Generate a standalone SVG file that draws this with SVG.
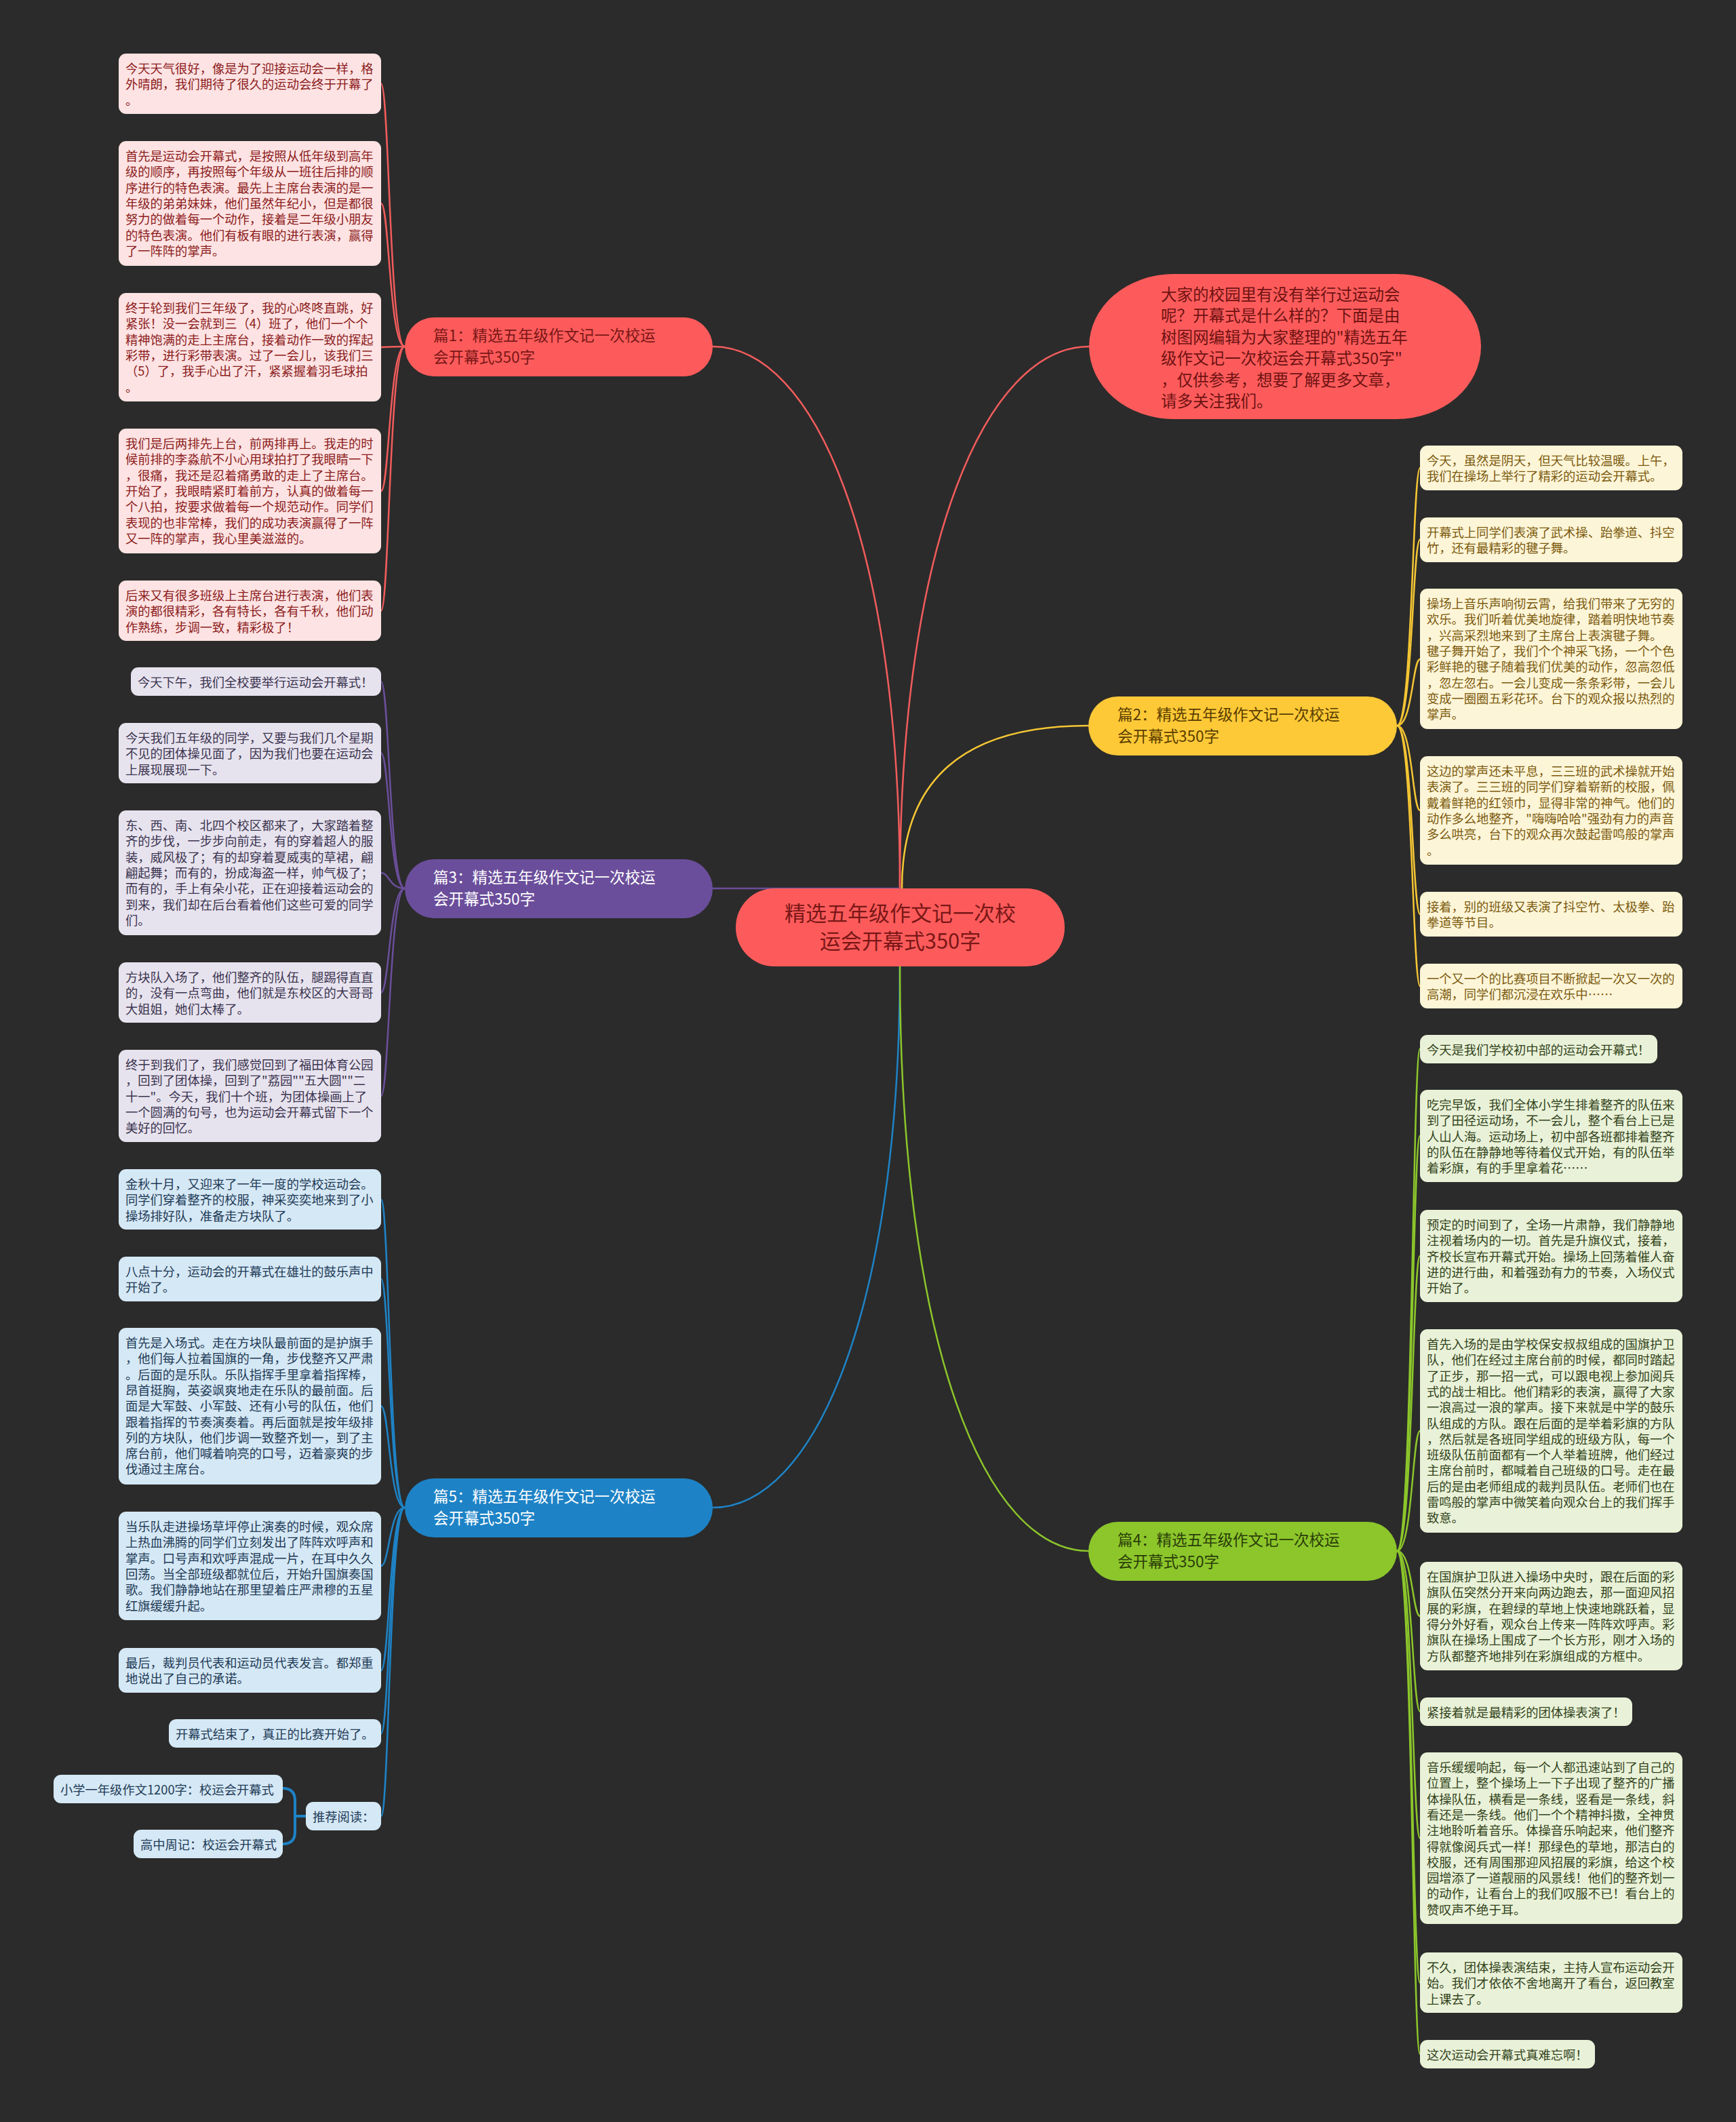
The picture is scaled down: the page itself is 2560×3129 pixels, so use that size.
<svg xmlns="http://www.w3.org/2000/svg" width="2560" height="3129" viewBox="0 0 2560 3129">
<style>
text{font-family:"Noto Sans CJK SC","Noto Sans",sans-serif}
.t{font-size:18.3px}
.bt{font-size:22.5px}
.red rect{fill:#fde3e3}.red text{fill:#8c1c1c}
.pur rect{fill:#e7e3ee}.pur text{fill:#3b3450}
.blu rect{fill:#d5e8f5}.blu text{fill:#1e3a56}
.yel rect{fill:#fdf5d7}.yel text{fill:#7b5a0f}
.grn rect{fill:#e9f2d8}.grn text{fill:#33431c}
.c{fill:none;stroke-width:2.5}
.cr{stroke:#f25c5c}.cp{stroke:#6b4e9b}.cb{stroke:#1e83c6}.cy{stroke:#f5c634}.cg{stroke:#8cc62b}
</style>
<rect x="0" y="0" width="2560" height="3129" fill="#2b2b2b"/>
<g id="connectors">
<path class="c cr" d="M1051 511 C1200 511 1327 800 1327 1310"/>
<path class="c cr" d="M1606 511 C1455 511 1327 800 1327 1310"/>
<path class="c cy" d="M1605 1070 C1420 1070 1330 1150 1330 1310"/>
<path class="c cp" d="M1051 1310 L1327 1310"/>
<path class="c cb" d="M1051 2223 C1200 2223 1327 1935 1327 1425"/>
<path class="c cg" d="M1605 2287 C1455 2287 1327 1990 1327 1425"/>
<g class="c cr">
<path d="M597 511 C574 511 574 123.5 562 123.5"/>
<path d="M597 511 C574 511 574 300 562 300"/>
<path d="M597 511 C574 511 574 512 562 512"/>
<path d="M597 511 C574 511 574 724 562 724"/>
<path d="M597 511 C574 511 574 900.5 562 900.5"/>
</g>
<g class="c cp">
<path d="M597 1310 C574 1310 574 1005 562 1005"/>
<path d="M597 1310 C574 1310 574 1110.5 562 1110.5"/>
<path d="M597 1310 C574 1310 574 1287 562 1287"/>
<path d="M597 1310 C574 1310 574 1463.5 562 1463.5"/>
<path d="M597 1310 C574 1310 574 1616 562 1616"/>
</g>
<g class="c cb">
<path d="M597 2223 C574 2223 574 1769 562 1769"/>
<path d="M597 2223 C574 2223 574 1886 562 1886"/>
<path d="M597 2223 C574 2223 574 2073.5 562 2073.5"/>
<path d="M597 2223 C574 2223 574 2309 562 2309"/>
<path d="M597 2223 C574 2223 574 2463 562 2463"/>
<path d="M597 2223 C574 2223 574 2556 562 2556"/>
<path d="M597 2223 C574 2223 574 2678 562 2678"/>
<path d="M451 2678 L435 2678 M417 2637 Q435 2637 435 2655 L435 2701 Q435 2719 417 2719" stroke-width="4"/>
</g>
<g class="c cy">
<path d="M2060 1070 C2083 1070 2083 690 2094 690"/>
<path d="M2060 1070 C2083 1070 2083 795.5 2094 795.5"/>
<path d="M2060 1070 C2083 1070 2083 972 2094 972"/>
<path d="M2060 1070 C2083 1070 2083 1195 2094 1195"/>
<path d="M2060 1070 C2083 1070 2083 1348 2094 1348"/>
<path d="M2060 1070 C2083 1070 2083 1454 2094 1454"/>
</g>
<g class="c cg">
<path d="M2060 2287 C2083 2287 2083 1546.5 2094 1546.5"/>
<path d="M2060 2287 C2083 2287 2083 1675 2094 1675"/>
<path d="M2060 2287 C2083 2287 2083 1852 2094 1852"/>
<path d="M2060 2287 C2083 2287 2083 2110 2094 2110"/>
<path d="M2060 2287 C2083 2287 2083 2383 2094 2383"/>
<path d="M2060 2287 C2083 2287 2083 2523.5 2094 2523.5"/>
<path d="M2060 2287 C2083 2287 2083 2710.5 2094 2710.5"/>
<path d="M2060 2287 C2083 2287 2083 2923.5 2094 2923.5"/>
<path d="M2060 2287 C2083 2287 2083 3028.5 2094 3028.5"/>
</g>
</g>

<g id="center">
<rect x="1085" y="1310" width="485" height="115" rx="57" fill="#fd5b5b"/>
<text x="1327.5" y="1358" font-size="31" fill="#7a1717" text-anchor="middle">精选五年级作文记一次校</text>
<text x="1327.5" y="1399" font-size="31" fill="#7a1717" text-anchor="middle">运会开幕式350字</text>
</g>

<g id="intro">
<rect x="1606" y="404" width="578" height="214" rx="125" ry="107" fill="#fd5b5b"/>
<text font-size="23.5" fill="#6e1212">
<tspan x="1712" y="443">大家的校园里有没有举行过运动会</tspan>
<tspan x="1712" y="474.4">呢？开幕式是什么样的？下面是由</tspan>
<tspan x="1712" y="505.8">树图网编辑为大家整理的"精选五年</tspan>
<tspan x="1712" y="537.2">级作文记一次校运会开幕式350字"</tspan>
<tspan x="1712" y="568.6">，仅供参考，想要了解更多文章，</tspan>
<tspan x="1712" y="600">请多关注我们。</tspan>
</text>
</g>

<g id="b1">
<rect x="597" y="468" width="454" height="87" rx="43.5" fill="#fd5b5b"/>
<text class="bt" fill="#7a1717"><tspan x="639" y="503">篇1：精选五年级作文记一次校运</tspan><tspan x="639" y="535">会开幕式350字</tspan></text>
</g>
<g id="b3">
<rect x="597" y="1267" width="454" height="87" rx="43.5" fill="#6b4e9b"/>
<text class="bt" fill="#ffffff"><tspan x="639" y="1302">篇3：精选五年级作文记一次校运</tspan><tspan x="639" y="1334">会开幕式350字</tspan></text>
</g>
<g id="b5">
<rect x="597" y="2180" width="454" height="87" rx="43.5" fill="#1e83c6"/>
<text class="bt" fill="#ffffff"><tspan x="639" y="2215">篇5：精选五年级作文记一次校运</tspan><tspan x="639" y="2247">会开幕式350字</tspan></text>
</g>
<g id="b2">
<rect x="1605" y="1027" width="455" height="87" rx="43.5" fill="#fdc937"/>
<text class="bt" fill="#5a3d00"><tspan x="1648" y="1062">篇2：精选五年级作文记一次校运</tspan><tspan x="1648" y="1094">会开幕式350字</tspan></text>
</g>
<g id="b4">
<rect x="1605" y="2244" width="455" height="87" rx="43.5" fill="#8cc62b"/>
<text class="bt" fill="#2a3d08"><tspan x="1648" y="2279">篇4：精选五年级作文记一次校运</tspan><tspan x="1648" y="2311">会开幕式350字</tspan></text>
</g>

<g id="r1" class="red"><rect x="175" y="79" width="387" height="89" rx="11"/>
<text class="t"><tspan x="185" y="108">今天天气很好，像是为了迎接运动会一样，格</tspan><tspan x="185" y="131.3">外晴朗，我们期待了很久的运动会终于开幕了</tspan><tspan x="185" y="154.6">。</tspan></text></g>
<g id="r2" class="red"><rect x="175" y="208" width="387" height="184" rx="11"/>
<text class="t"><tspan x="185" y="237">首先是运动会开幕式，是按照从低年级到高年</tspan><tspan x="185" y="260.3">级的顺序，再按照每个年级从一班往后排的顺</tspan><tspan x="185" y="283.6">序进行的特色表演。最先上主席台表演的是一</tspan><tspan x="185" y="306.9">年级的弟弟妹妹，他们虽然年纪小，但是都很</tspan><tspan x="185" y="330.2">努力的做着每一个动作，接着是二年级小朋友</tspan><tspan x="185" y="353.5">的特色表演。他们有板有眼的进行表演，赢得</tspan><tspan x="185" y="376.8">了一阵阵的掌声。</tspan></text></g>
<g id="r3" class="red"><rect x="175" y="432" width="387" height="160" rx="11"/>
<text class="t"><tspan x="185" y="461">终于轮到我们三年级了，我的心咚咚直跳，好</tspan><tspan x="185" y="484.3">紧张！没一会就到三（4）班了，他们一个个</tspan><tspan x="185" y="507.6">精神饱满的走上主席台，接着动作一致的挥起</tspan><tspan x="185" y="530.9">彩带，进行彩带表演。过了一会儿，该我们三</tspan><tspan x="185" y="554.2">（5）了，我手心出了汗，紧紧握着羽毛球拍</tspan><tspan x="185" y="577.5">。</tspan></text></g>
<g id="r4" class="red"><rect x="175" y="632" width="387" height="184" rx="11"/>
<text class="t"><tspan x="185" y="661">我们是后两排先上台，前两排再上。我走的时</tspan><tspan x="185" y="684.3">候前排的李淼航不小心用球拍打了我眼睛一下</tspan><tspan x="185" y="707.6">，很痛，我还是忍着痛勇敢的走上了主席台。</tspan><tspan x="185" y="730.9">开始了，我眼睛紧盯着前方，认真的做着每一</tspan><tspan x="185" y="754.2">个八拍，按要求做着每一个规范动作。同学们</tspan><tspan x="185" y="777.5">表现的也非常棒，我们的成功表演赢得了一阵</tspan><tspan x="185" y="800.8">又一阵的掌声，我心里美滋滋的。</tspan></text></g>
<g id="r5" class="red"><rect x="175" y="856" width="387" height="89" rx="11"/>
<text class="t"><tspan x="185" y="885">后来又有很多班级上主席台进行表演，他们表</tspan><tspan x="185" y="908.3">演的都很精彩，各有特长，各有千秋，他们动</tspan><tspan x="185" y="931.6">作熟练，步调一致，精彩极了！</tspan></text></g>

<g id="p1" class="pur"><rect x="193" y="984" width="369" height="42" rx="11"/>
<text class="t"><tspan x="203" y="1013">今天下午，我们全校要举行运动会开幕式！</tspan></text></g>
<g id="p2" class="pur"><rect x="175" y="1066" width="387" height="89" rx="11"/>
<text class="t"><tspan x="185" y="1095">今天我们五年级的同学，又要与我们几个星期</tspan><tspan x="185" y="1118.3">不见的团体操见面了，因为我们也要在运动会</tspan><tspan x="185" y="1141.6">上展现展现一下。</tspan></text></g>
<g id="p3" class="pur"><rect x="175" y="1195" width="387" height="184" rx="11"/>
<text class="t"><tspan x="185" y="1224">东、西、南、北四个校区都来了，大家踏着整</tspan><tspan x="185" y="1247.3">齐的步伐，一步步向前走，有的穿着超人的服</tspan><tspan x="185" y="1270.6">装，威风极了；有的却穿着夏威夷的草裙，翩</tspan><tspan x="185" y="1293.9">翩起舞；而有的，扮成海盗一样，帅气极了；</tspan><tspan x="185" y="1317.2">而有的，手上有朵小花，正在迎接着运动会的</tspan><tspan x="185" y="1340.5">到来，我们却在后台看着他们这些可爱的同学</tspan><tspan x="185" y="1363.8">们。</tspan></text></g>
<g id="p4" class="pur"><rect x="175" y="1419" width="387" height="89" rx="11"/>
<text class="t"><tspan x="185" y="1448">方块队入场了，他们整齐的队伍，腿踢得直直</tspan><tspan x="185" y="1471.3">的，没有一点弯曲，他们就是东校区的大哥哥</tspan><tspan x="185" y="1494.6">大姐姐，她们太棒了。</tspan></text></g>
<g id="p5" class="pur"><rect x="175" y="1548" width="387" height="136" rx="11"/>
<text class="t"><tspan x="185" y="1577">终于到我们了，我们感觉回到了福田体育公园</tspan><tspan x="185" y="1600.3">，回到了团体操，回到了"荔园""五大圆""二</tspan><tspan x="185" y="1623.6">十一"。今天，我们十个班，为团体操画上了</tspan><tspan x="185" y="1646.9">一个圆满的句号，也为运动会开幕式留下一个</tspan><tspan x="185" y="1670.2">美好的回忆。</tspan></text></g>

<g id="u1" class="blu"><rect x="175" y="1724" width="387" height="89" rx="11"/>
<text class="t"><tspan x="185" y="1753">金秋十月，又迎来了一年一度的学校运动会。</tspan><tspan x="185" y="1776.3">同学们穿着整齐的校服，神采奕奕地来到了小</tspan><tspan x="185" y="1799.6">操场排好队，准备走方块队了。</tspan></text></g>
<g id="u2" class="blu"><rect x="175" y="1853" width="387" height="66" rx="11"/>
<text class="t"><tspan x="185" y="1882">八点十分，运动会的开幕式在雄壮的鼓乐声中</tspan><tspan x="185" y="1905.3">开始了。</tspan></text></g>
<g id="u3" class="blu"><rect x="175" y="1958" width="387" height="231" rx="11"/>
<text class="t"><tspan x="185" y="1987">首先是入场式。走在方块队最前面的是护旗手</tspan><tspan x="185" y="2010.3">，他们每人拉着国旗的一角，步伐整齐又严肃</tspan><tspan x="185" y="2033.6">。后面的是乐队。乐队指挥手里拿着指挥棒，</tspan><tspan x="185" y="2056.9">昂首挺胸，英姿飒爽地走在乐队的最前面。后</tspan><tspan x="185" y="2080.2">面是大军鼓、小军鼓、还有小号的队伍，他们</tspan><tspan x="185" y="2103.5">跟着指挥的节奏演奏着。再后面就是按年级排</tspan><tspan x="185" y="2126.8">列的方块队，他们步调一致整齐划一，到了主</tspan><tspan x="185" y="2150.1">席台前，他们喊着响亮的口号，迈着豪爽的步</tspan><tspan x="185" y="2173.4">伐通过主席台。</tspan></text></g>
<g id="u4" class="blu"><rect x="175" y="2229" width="387" height="160" rx="11"/>
<text class="t"><tspan x="185" y="2258">当乐队走进操场草坪停止演奏的时候，观众席</tspan><tspan x="185" y="2281.3">上热血沸腾的同学们立刻发出了阵阵欢呼声和</tspan><tspan x="185" y="2304.6">掌声。口号声和欢呼声混成一片，在耳中久久</tspan><tspan x="185" y="2327.9">回荡。当全部班级都就位后，开始升国旗奏国</tspan><tspan x="185" y="2351.2">歌。我们静静地站在那里望着庄严肃穆的五星</tspan><tspan x="185" y="2374.5">红旗缓缓升起。</tspan></text></g>
<g id="u5" class="blu"><rect x="175" y="2430" width="387" height="66" rx="11"/>
<text class="t"><tspan x="185" y="2459">最后，裁判员代表和运动员代表发言。都郑重</tspan><tspan x="185" y="2482.3">地说出了自己的承诺。</tspan></text></g>
<g id="u6" class="blu"><rect x="249" y="2535" width="313" height="42" rx="11"/>
<text class="t"><tspan x="259" y="2564">开幕式结束了，真正的比赛开始了。</tspan></text></g>
<g id="u7" class="blu"><rect x="451" y="2657" width="111" height="42" rx="11"/>
<text class="t"><tspan x="461" y="2686">推荐阅读：</tspan></text></g>
<g id="u8" class="blu"><rect x="79" y="2617" width="338" height="42" rx="11"/>
<text class="t"><tspan x="89" y="2646">小学一年级作文1200字：校运会开幕式</tspan></text></g>
<g id="u9" class="blu"><rect x="197" y="2698" width="220" height="42" rx="11"/>
<text class="t"><tspan x="207" y="2727">高中周记：校运会开幕式</tspan></text></g>

<g id="y1" class="yel"><rect x="2094" y="657" width="387" height="66" rx="11"/>
<text class="t"><tspan x="2104" y="686">今天，虽然是阴天，但天气比较温暖。上午，</tspan><tspan x="2104" y="709.3">我们在操场上举行了精彩的运动会开幕式。</tspan></text></g>
<g id="y2" class="yel"><rect x="2094" y="763" width="387" height="66" rx="11"/>
<text class="t"><tspan x="2104" y="792">开幕式上同学们表演了武术操、跆拳道、抖空</tspan><tspan x="2104" y="815.3">竹，还有最精彩的毽子舞。</tspan></text></g>
<g id="y3" class="yel"><rect x="2094" y="868" width="387" height="207" rx="11"/>
<text class="t"><tspan x="2104" y="897">操场上音乐声响彻云霄，给我们带来了无穷的</tspan><tspan x="2104" y="920.3">欢乐。我们听着优美地旋律，踏着明快地节奏</tspan><tspan x="2104" y="943.6">，兴高采烈地来到了主席台上表演毽子舞。</tspan><tspan x="2104" y="966.9">毽子舞开始了，我们个个神采飞扬，一个个色</tspan><tspan x="2104" y="990.2">彩鲜艳的毽子随着我们优美的动作，忽高忽低</tspan><tspan x="2104" y="1013.5">，忽左忽右。一会儿变成一条条彩带，一会儿</tspan><tspan x="2104" y="1036.8">变成一圈圈五彩花环。台下的观众报以热烈的</tspan><tspan x="2104" y="1060.1">掌声。</tspan></text></g>
<g id="y4" class="yel"><rect x="2094" y="1115" width="387" height="160" rx="11"/>
<text class="t"><tspan x="2104" y="1144">这边的掌声还未平息，三三班的武术操就开始</tspan><tspan x="2104" y="1167.3">表演了。三三班的同学们穿着崭新的校服，佩</tspan><tspan x="2104" y="1190.6">戴着鲜艳的红领巾，显得非常的神气。他们的</tspan><tspan x="2104" y="1213.9">动作多么地整齐，"嗨嗨哈哈"强劲有力的声音</tspan><tspan x="2104" y="1237.2">多么哄亮，台下的观众再次鼓起雷鸣般的掌声</tspan><tspan x="2104" y="1260.5">。</tspan></text></g>
<g id="y5" class="yel"><rect x="2094" y="1315" width="387" height="66" rx="11"/>
<text class="t"><tspan x="2104" y="1344">接着，别的班级又表演了抖空竹、太极拳、跆</tspan><tspan x="2104" y="1367.3">拳道等节目。</tspan></text></g>
<g id="y6" class="yel"><rect x="2094" y="1421" width="387" height="66" rx="11"/>
<text class="t"><tspan x="2104" y="1450">一个又一个的比赛项目不断掀起一次又一次的</tspan><tspan x="2104" y="1473.3">高潮，同学们都沉浸在欢乐中……</tspan></text></g>

<g id="g1" class="grn"><rect x="2094" y="1526" width="350" height="42" rx="11"/>
<text class="t"><tspan x="2104" y="1555">今天是我们学校初中部的运动会开幕式！</tspan></text></g>
<g id="g2" class="grn"><rect x="2094" y="1607" width="387" height="136" rx="11"/>
<text class="t"><tspan x="2104" y="1636">吃完早饭，我们全体小学生排着整齐的队伍来</tspan><tspan x="2104" y="1659.3">到了田径运动场，不一会儿，整个看台上已是</tspan><tspan x="2104" y="1682.6">人山人海。运动场上，初中部各班都排着整齐</tspan><tspan x="2104" y="1705.9">的队伍在静静地等待着仪式开始，有的队伍举</tspan><tspan x="2104" y="1729.2">着彩旗，有的手里拿着花……</tspan></text></g>
<g id="g3" class="grn"><rect x="2094" y="1784" width="387" height="136" rx="11"/>
<text class="t"><tspan x="2104" y="1813">预定的时间到了，全场一片肃静，我们静静地</tspan><tspan x="2104" y="1836.3">注视着场内的一切。首先是升旗仪式，接着，</tspan><tspan x="2104" y="1859.6">齐校长宣布开幕式开始。操场上回荡着催人奋</tspan><tspan x="2104" y="1882.9">进的进行曲，和着强劲有力的节奏，入场仪式</tspan><tspan x="2104" y="1906.2">开始了。</tspan></text></g>
<g id="g4" class="grn"><rect x="2094" y="1960" width="387" height="300" rx="11"/>
<text class="t"><tspan x="2104" y="1989">首先入场的是由学校保安叔叔组成的国旗护卫</tspan><tspan x="2104" y="2012.3">队，他们在经过主席台前的时候，都同时踏起</tspan><tspan x="2104" y="2035.6">了正步，那一招一式，可以跟电视上参加阅兵</tspan><tspan x="2104" y="2058.9">式的战士相比。他们精彩的表演，赢得了大家</tspan><tspan x="2104" y="2082.2">一浪高过一浪的掌声。接下来就是中学的鼓乐</tspan><tspan x="2104" y="2105.5">队组成的方队。跟在后面的是举着彩旗的方队</tspan><tspan x="2104" y="2128.8">，然后就是各班同学组成的班级方队，每一个</tspan><tspan x="2104" y="2152.1">班级队伍前面都有一个人举着班牌，他们经过</tspan><tspan x="2104" y="2175.4">主席台前时，都喊着自己班级的口号。走在最</tspan><tspan x="2104" y="2198.7">后的是由老师组成的裁判员队伍。老师们也在</tspan><tspan x="2104" y="2222">雷鸣般的掌声中微笑着向观众台上的我们挥手</tspan><tspan x="2104" y="2245.3">致意。</tspan></text></g>
<g id="g5" class="grn"><rect x="2094" y="2303" width="387" height="160" rx="11"/>
<text class="t"><tspan x="2104" y="2332">在国旗护卫队进入操场中央时，跟在后面的彩</tspan><tspan x="2104" y="2355.3">旗队伍突然分开来向两边跑去，那一面迎风招</tspan><tspan x="2104" y="2378.6">展的彩旗，在碧绿的草地上快速地跳跃着，显</tspan><tspan x="2104" y="2401.9">得分外好看，观众台上传来一阵阵欢呼声。彩</tspan><tspan x="2104" y="2425.2">旗队在操场上围成了一个长方形，刚才入场的</tspan><tspan x="2104" y="2448.5">方队都整齐地排列在彩旗组成的方框中。</tspan></text></g>
<g id="g6" class="grn"><rect x="2094" y="2503" width="313" height="42" rx="11"/>
<text class="t"><tspan x="2104" y="2532">紧接着就是最精彩的团体操表演了！</tspan></text></g>
<g id="g7" class="grn"><rect x="2094" y="2584" width="387" height="253" rx="11"/>
<text class="t"><tspan x="2104" y="2613">音乐缓缓响起，每一个人都迅速站到了自己的</tspan><tspan x="2104" y="2636.3">位置上，整个操场上一下子出现了整齐的广播</tspan><tspan x="2104" y="2659.6">体操队伍，横看是一条线，竖看是一条线，斜</tspan><tspan x="2104" y="2682.9">看还是一条线。他们一个个精神抖擞，全神贯</tspan><tspan x="2104" y="2706.2">注地聆听着音乐。体操音乐响起来，他们整齐</tspan><tspan x="2104" y="2729.5">得就像阅兵式一样！那绿色的草地，那洁白的</tspan><tspan x="2104" y="2752.8">校服，还有周围那迎风招展的彩旗，给这个校</tspan><tspan x="2104" y="2776.1">园增添了一道靓丽的风景线！他们的整齐划一</tspan><tspan x="2104" y="2799.4">的动作，让看台上的我们叹服不已！看台上的</tspan><tspan x="2104" y="2822.7">赞叹声不绝于耳。</tspan></text></g>
<g id="g8" class="grn"><rect x="2094" y="2879" width="387" height="89" rx="11"/>
<text class="t"><tspan x="2104" y="2908">不久，团体操表演结束，主持人宣布运动会开</tspan><tspan x="2104" y="2931.3">始。我们才依依不舍地离开了看台，返回教室</tspan><tspan x="2104" y="2954.6">上课去了。</tspan></text></g>
<g id="g9" class="grn"><rect x="2094" y="3008" width="258" height="42" rx="11"/>
<text class="t"><tspan x="2104" y="3037">这次运动会开幕式真难忘啊！</tspan></text></g>
</svg>
